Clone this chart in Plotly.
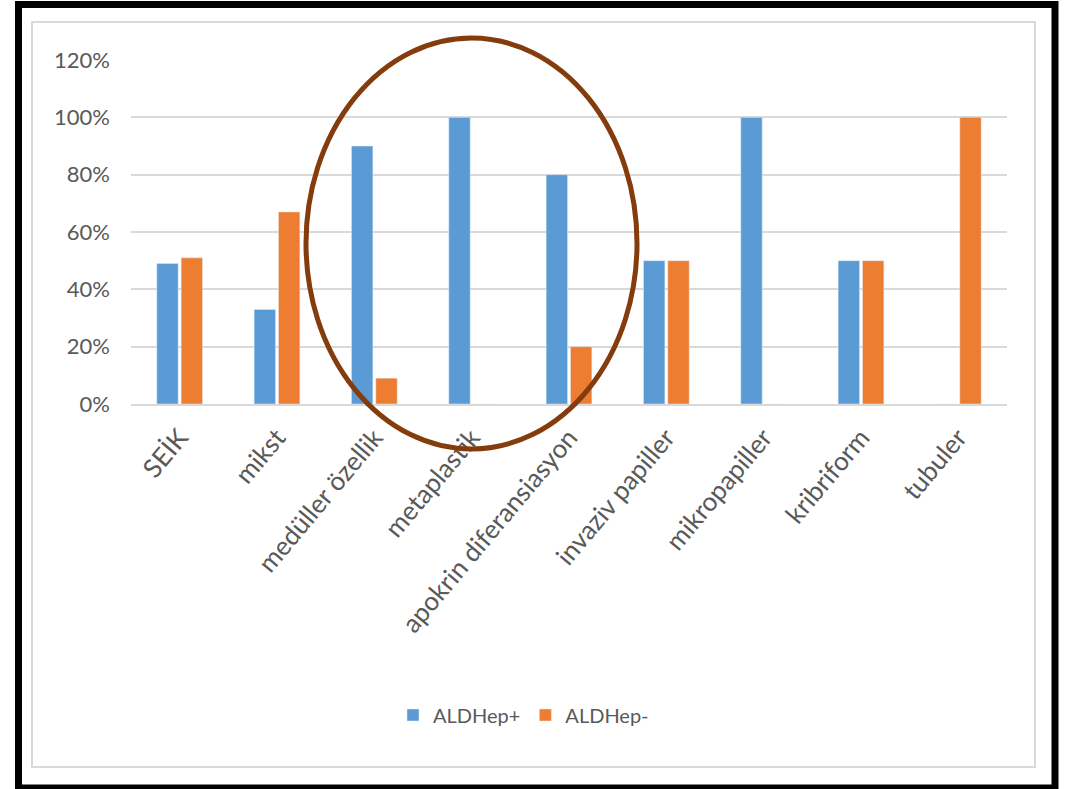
import plotly.graph_objects as go

categories = ["SEİK", "mikst", "medüller özellik", "metaplastik", "apokrin diferansiasyon",
              "invaziv papiller", "mikropapiller", "kribriform", "tubuler"]
aldh_pos = [0.49, 0.33, 0.90, 1.00, 0.80, 0.50, 1.00, 0.50, 0.0]
aldh_neg = [0.51, 0.67, 0.09, 0.0, 0.20, 0.50, 0.0, 0.50, 1.00]
y_ticks = [0, 0.2, 0.4, 0.6, 0.8, 1.0, 1.2]

FONT = "Lato"
GRAY = "#595959"

fig = go.Figure()
fig.add_trace(go.Bar(name="ALDHep+", x=categories, y=aldh_pos, marker_color="#5B9BD5"))
fig.add_trace(go.Bar(name="ALDHep-", x=categories, y=aldh_neg, marker_color="#ED7D31"))

L, R, T, B = 131, 67, 60, 385
W, H = 1074, 789
pw, ph = W - L - R, H - T - B

def px(x):
    return (x - L) / pw

def py(y):
    return (H - B - y) / ph

shapes = [
    dict(type="rect", xref="paper", yref="paper", x0=px(32), x1=px(1035), y0=py(767), y1=py(22),
         line=dict(color="#d9d9d9", width=2), layer="below"),
    dict(type="rect", xref="paper", yref="paper", x0=px(18.5), x1=px(1055), y0=py(788), y1=py(4.5),
         line=dict(color="black", width=7)),
    dict(type="circle", xref="paper", yref="paper", x0=px(306), x1=px(637), y0=py(449), y1=py(38),
         line=dict(color="#843C0C", width=5)),
]

fig.update_layout(
    width=W, height=H,
    margin=dict(l=L, r=R, t=T, b=B),
    paper_bgcolor="white", plot_bgcolor="white",
    barmode="group", bargap=0.5, bargroupgap=0.12,
    font=dict(family=FONT, color=GRAY, size=20),
    showlegend=True,
    legend=dict(orientation="h", x=px(393), xanchor="left", y=py(715), yanchor="middle",
                font=dict(size=20, color=GRAY), itemwidth=30, traceorder="normal"),
    shapes=shapes,
    xaxis=dict(tickangle=-50, tickfont=dict(size=26, color=GRAY), showgrid=False,
               showline=True, linecolor="#d9d9d9", linewidth=2, ticks="", ticklabelstandoff=6),
    yaxis=dict(range=[0, 1.2], tickvals=y_ticks, tickformat=".0%", tickfont=dict(size=22, color=GRAY),
               showgrid=True, gridcolor="#d9d9d9", gridwidth=2, zeroline=False, showline=False,
               ticks="", ticklabelstandoff=20),
)

fig.write_html("out.html")
